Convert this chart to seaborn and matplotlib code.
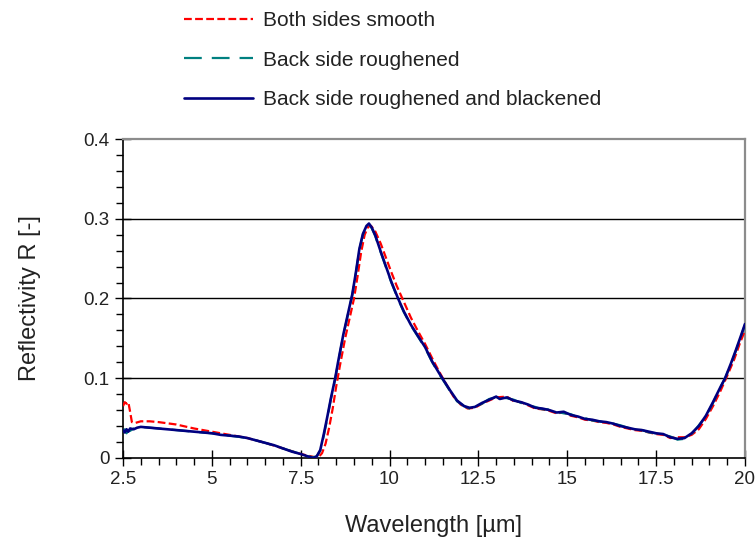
import numpy as np
import pandas as pd
import seaborn as sns
import matplotlib.pyplot as plt
from matplotlib.ticker import MultipleLocator
from matplotlib.lines import Line2D

# wavelength [um] and reflectivity
wl_blue = [2.5, 2.55, 2.6, 2.65, 2.7, 2.8, 2.9, 3.0, 3.25, 3.5, 4.0, 4.5, 5.0, 5.25, 5.5,
           5.75, 6.0, 6.25, 6.5, 6.75, 7.0, 7.25, 7.5, 7.7, 7.85, 7.95, 8.05, 8.15, 8.25,
           8.35, 8.47, 8.55, 8.7, 8.85, 8.95, 9.05, 9.15, 9.25, 9.35, 9.42, 9.5, 9.6, 9.75,
           9.9, 10.05, 10.24, 10.4, 10.6, 10.8, 11.0, 11.2, 11.4, 11.5, 11.7, 11.9, 12.1,
           12.25, 12.4, 12.6, 12.8, 13.0, 13.1, 13.3, 13.5, 13.7, 13.9, 14.1, 14.3, 14.5,
           14.7, 14.9, 15.1, 15.3, 15.5, 15.7, 15.9, 16.1, 16.3, 16.5, 16.7, 16.9, 17.1,
           17.3, 17.5, 17.7, 17.9, 18.1, 18.3, 18.5, 18.7, 18.9, 19.1, 19.3, 19.44, 19.6,
           19.75, 19.9, 20.0]
r_blue = [0.035, 0.032, 0.036, 0.033, 0.037, 0.036, 0.038, 0.039, 0.038, 0.037, 0.035,
          0.033, 0.031, 0.029, 0.028, 0.027, 0.025, 0.022, 0.019, 0.016, 0.012, 0.008,
          0.005, 0.002, 0.000, 0.002, 0.010, 0.030, 0.052, 0.075, 0.100, 0.120, 0.155,
          0.185, 0.205, 0.232, 0.262, 0.281, 0.291, 0.294, 0.289, 0.279, 0.259, 0.240,
          0.221, 0.200, 0.184, 0.167, 0.153, 0.139, 0.121, 0.106, 0.099, 0.085, 0.072,
          0.065, 0.063, 0.064, 0.069, 0.073, 0.077, 0.074, 0.076, 0.072, 0.070, 0.067,
          0.063, 0.062, 0.060, 0.057, 0.058, 0.054, 0.052, 0.049, 0.048, 0.046, 0.045,
          0.043, 0.040, 0.038, 0.036, 0.035, 0.033, 0.031, 0.030, 0.026, 0.024, 0.025,
          0.031, 0.040, 0.053, 0.070, 0.088, 0.100, 0.118, 0.136, 0.155, 0.168]

wl_teal = [2.5, 2.55, 2.6, 2.65, 2.7, 2.8, 2.9, 3.0, 3.25, 3.5, 4.0, 4.5, 5.0, 5.5, 6.0,
           6.5, 7.0, 7.5, 7.7, 7.85, 7.95, 8.05, 8.15, 8.25, 8.35, 8.47, 8.55, 8.7, 8.85,
           8.95, 9.05, 9.15, 9.25, 9.35, 9.42, 9.5, 9.6, 9.75, 9.9, 10.05, 10.24, 10.4,
           10.6, 10.8, 11.0, 11.2, 11.4, 11.7, 11.9, 12.1, 12.25, 12.4, 12.6, 12.8, 13.0,
           13.3, 13.5, 13.7, 13.9, 14.1, 14.3, 14.5, 14.7, 14.9, 15.1, 15.3, 15.5, 15.7,
           15.9, 16.1, 16.3, 16.5, 16.7, 16.9, 17.1, 17.3, 17.5, 17.7, 17.9, 18.1, 18.3,
           18.5, 18.7, 18.9, 19.1, 19.3, 19.44, 19.6, 19.75, 19.9, 20.0]
r_teal = [0.033, 0.036, 0.031, 0.035, 0.034, 0.037, 0.037, 0.039, 0.038, 0.037, 0.035,
          0.033, 0.031, 0.028, 0.025, 0.019, 0.012, 0.005, 0.002, 0.001, 0.002, 0.009,
          0.028, 0.050, 0.074, 0.099, 0.119, 0.154, 0.184, 0.204, 0.231, 0.261, 0.280,
          0.290, 0.293, 0.288, 0.278, 0.258, 0.239, 0.220, 0.199, 0.183, 0.166, 0.152,
          0.138, 0.120, 0.105, 0.084, 0.071, 0.065, 0.062, 0.064, 0.068, 0.074, 0.076,
          0.075, 0.073, 0.069, 0.066, 0.064, 0.061, 0.061, 0.058, 0.056, 0.055, 0.051,
          0.050, 0.047, 0.046, 0.044, 0.043, 0.041, 0.038, 0.035, 0.035, 0.032, 0.031,
          0.029, 0.027, 0.023, 0.024, 0.030, 0.041, 0.052, 0.069, 0.088, 0.100, 0.117,
          0.135, 0.154, 0.167]

wl_red = [2.5, 2.55, 2.6, 2.65, 2.7, 2.75, 2.85, 3.0, 3.25, 3.5, 4.0, 4.5, 5.0, 5.5, 6.0,
          6.5, 7.0, 7.5, 7.7, 7.9, 8.0, 8.1, 8.2, 8.3, 8.4, 8.5, 8.6, 8.75, 8.9, 9.0, 9.1,
          9.2, 9.3, 9.4, 9.48, 9.6, 9.75, 9.9, 10.05, 10.2, 10.4, 10.6, 10.8, 11.0, 11.2,
          11.4, 11.6, 11.8, 12.0, 12.2, 12.4, 12.6, 12.8, 13.0, 13.3, 13.5, 13.7, 13.9,
          14.1, 14.3, 14.5, 14.7, 14.9, 15.1, 15.3, 15.5, 15.7, 15.9, 16.1, 16.3, 16.5,
          16.7, 16.9, 17.1, 17.3, 17.5, 17.7, 17.9, 18.1, 18.3, 18.5, 18.7, 18.9, 19.1,
          19.3, 19.5, 19.7, 19.85, 20.0]
r_red = [0.065, 0.070, 0.068, 0.070, 0.058, 0.045, 0.044, 0.046, 0.046, 0.045, 0.042,
         0.037, 0.033, 0.029, 0.025, 0.019, 0.012, 0.005, 0.003, 0.001, 0.001, 0.006,
         0.018, 0.038, 0.062, 0.090, 0.115, 0.150, 0.180, 0.200, 0.228, 0.258, 0.280,
         0.290, 0.291, 0.284, 0.269, 0.251, 0.233, 0.216, 0.196, 0.176, 0.159, 0.143,
         0.125, 0.108, 0.092, 0.077, 0.067, 0.062, 0.063, 0.068, 0.072, 0.076, 0.077,
         0.071, 0.070, 0.066, 0.062, 0.061, 0.059, 0.056, 0.057, 0.053, 0.051, 0.048,
         0.047, 0.045, 0.044, 0.042, 0.039, 0.037, 0.035, 0.034, 0.032, 0.030, 0.029,
         0.025, 0.026, 0.026, 0.029, 0.036, 0.049, 0.065, 0.083, 0.103, 0.124, 0.143,
         0.160]

labels = ["Both sides smooth", "Back side roughened", "Back side roughened and blackened"]

sns.set_style("white")
plt.rcParams['font.family'] = ['Liberation Sans', 'DejaVu Sans']

fig = plt.figure(figsize=(7.56, 5.39), dpi=100)
ax = fig.add_axes([0.1627, 0.1503, 0.8227, 0.5918])

for y in [0.1, 0.2, 0.3]:
    ax.axhline(y, color="black", lw=1.0, zorder=1)

df_red = pd.DataFrame({"wl": wl_red, "R": r_red})
df_teal = pd.DataFrame({"wl": wl_teal, "R": r_teal})
df_blue = pd.DataFrame({"wl": wl_blue, "R": r_blue})

sns.lineplot(data=df_red, x="wl", y="R", ax=ax, color="#FF0000", lw=1.6, zorder=3)
ax.lines[-1].set_dashes((3.5, 1.5))
sns.lineplot(data=df_teal, x="wl", y="R", ax=ax, color="#008080", lw=1.6, zorder=4)
ax.lines[-1].set_dashes((8, 4.5))
sns.lineplot(data=df_blue, x="wl", y="R", ax=ax, color="#000080", lw=1.9, zorder=5)

ax.set_xlim(2.5, 20)
ax.set_ylim(0, 0.4)
ax.xaxis.set_minor_locator(MultipleLocator(0.5))
ax.yaxis.set_minor_locator(MultipleLocator(0.02))
ax.set_xticks([2.5, 5, 7.5, 10, 12.5, 15, 17.5, 20])
ax.set_xticklabels(["2.5", "5", "7.5", "10", "12.5", "15", "17.5", "20"])
ax.set_yticks([0, 0.1, 0.2, 0.3, 0.4])
ax.set_yticklabels(["0", "0.1", "0.2", "0.3", "0.4"])

ax.tick_params(which="major", direction="inout", length=11, width=1.0, color="black",
               labelsize=13.5, labelcolor="#222222", pad=4)
ax.tick_params(which="minor", direction="out", length=5, width=1.0, color="black")
ax.tick_params(axis="x", which="both", bottom=True, top=False)
ax.tick_params(axis="y", which="both", left=True, right=False)

for side in ["left", "bottom"]:
    ax.spines[side].set_color("black")
    ax.spines[side].set_linewidth(1.2)
for side in ["top", "right"]:
    ax.spines[side].set_color("#8c8c8c")
    ax.spines[side].set_linewidth(1.6)

ax.set_xlabel("Wavelength [\u00b5m]", fontsize=17, color="#222222", labelpad=19)
ax.set_ylabel("Reflectivity R [-]", fontsize=17, color="#222222", labelpad=31)

handles = [Line2D([], [], color="#FF0000", lw=1.6, dashes=(3.5, 1.5)),
           Line2D([], [], color="#008080", lw=1.6, dashes=(8, 4.5)),
           Line2D([], [], color="#000080", lw=1.9)]
fig.legend(handles, labels, loc="upper left", bbox_to_anchor=(0.219, 1.014),
           frameon=False, fontsize=15, handlelength=3.3, handletextpad=0.48,
           labelspacing=0.98, labelcolor="#222222")

fig.savefig("out.png", dpi=100)
